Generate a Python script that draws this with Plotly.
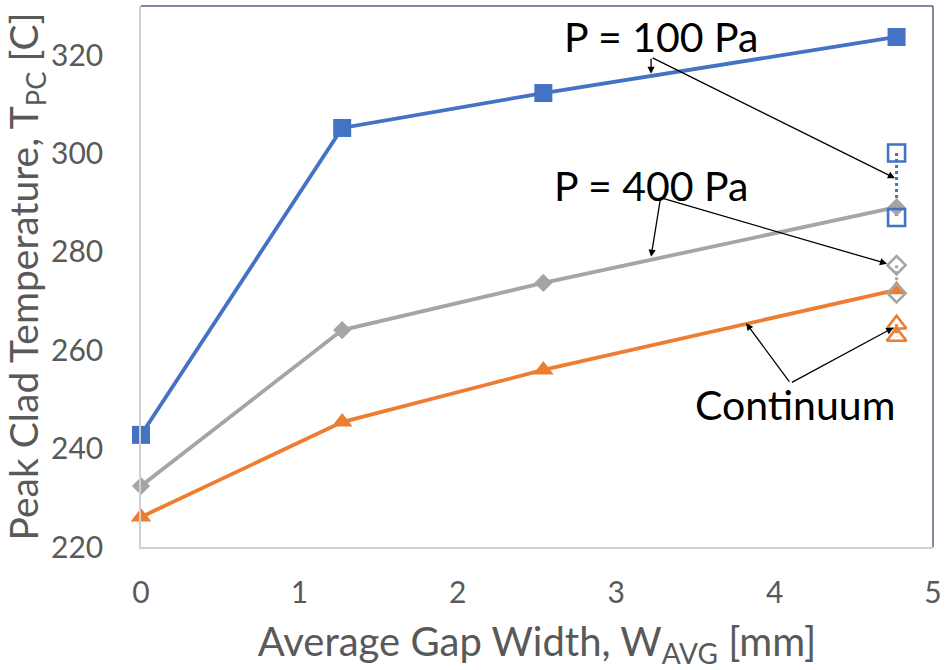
import plotly.graph_objects as go

# ---- data ----
gap_width = [0, 1.27, 2.54, 4.77]
t_100pa = [242.8, 305.2, 312.3, 323.7]
t_400pa = [232.4, 264.1, 273.7, 289.1]
t_continuum = [226.1, 245.4, 256.0, 272.3]

alt_x = [4.77, 4.77]
alt_100pa = [300.1, 287.0]
alt_400pa = [277.3, 271.6]
alt_continuum = [265.3, 262.8]

x_ticks = [0, 1, 2, 3, 4, 5]
y_ticks = [220, 240, 260, 280, 300, 320]

BLUE = "#4472C4"
GRAY = "#A5A5A5"
ORANGE = "#ED7D31"
TXT = "#595959"
FONT = "Lato"

fig = go.Figure()

# dotted connectors for the alternative points
for ys, col in [(alt_100pa, BLUE), (alt_400pa, GRAY), (alt_continuum, ORANGE)]:
    fig.add_trace(go.Scatter(x=alt_x, y=ys, mode="lines",
                             line=dict(color=col, width=3, dash="dot"),
                             showlegend=False, hoverinfo="skip", cliponaxis=False))

fig.add_trace(go.Scatter(x=gap_width, y=t_100pa, mode="lines+markers",
                         line=dict(color=BLUE, width=3.8),
                         marker=dict(symbol="square", size=18, color=BLUE),
                         name="P = 100 Pa", showlegend=False, cliponaxis=False))
fig.add_trace(go.Scatter(x=gap_width, y=t_400pa, mode="lines+markers",
                         line=dict(color=GRAY, width=3.8),
                         marker=dict(symbol="diamond", size=14, color=GRAY),
                         name="P = 400 Pa", showlegend=False, cliponaxis=False))
fig.add_trace(go.Scatter(x=gap_width, y=t_continuum, mode="lines+markers",
                         line=dict(color=ORANGE, width=3.8),
                         marker=dict(symbol="triangle-up", size=18, color=ORANGE),
                         name="Continuum", showlegend=False, cliponaxis=False))

fig.add_trace(go.Scatter(x=alt_x, y=alt_100pa, mode="markers",
                         marker=dict(symbol="square-open", size=17, color=BLUE,
                                     line=dict(width=2.6, color=BLUE)),
                         showlegend=False, cliponaxis=False))
fig.add_trace(go.Scatter(x=alt_x, y=alt_400pa, mode="markers",
                         marker=dict(symbol="diamond-open", size=14, color=GRAY,
                                     line=dict(width=2.6, color=GRAY)),
                         showlegend=False, cliponaxis=False))
fig.add_trace(go.Scatter(x=alt_x, y=alt_continuum, mode="markers",
                         marker=dict(symbol="triangle-up-open", size=17, color=ORANGE,
                                     line=dict(width=2.6, color=ORANGE)),
                         showlegend=False, cliponaxis=False))

# ---- labels and arrows (data units) ----
labels = [
    ("P = 100 Pa", 3.28, 323.9),
    ("P = 400 Pa", 3.22, 293.6),
    ("Continuum", 4.13, 248.9),
]
for txt, lx, ly in labels:
    fig.add_annotation(x=lx, y=ly, text=txt, showarrow=False,
                       font=dict(family=FONT, size=41, color="black"))

arrows = [
    # (tail_x, tail_y, head_x, head_y)
    (3.22, 319.6, 3.22, 316.2),
    (3.22, 319.6, 4.76, 295.0),
    (3.28, 291.0, 3.22, 279.0),
    (3.28, 291.0, 4.71, 277.6),
    (4.10, 253.3, 3.82, 265.5),
    (4.10, 253.3, 4.75, 264.6),
]
for tx, ty, hx, hy in arrows:
    fig.add_annotation(x=hx, y=hy, ax=tx, ay=ty, xref="x", yref="y",
                       axref="x", ayref="y", text="", showarrow=True,
                       arrowhead=2, arrowsize=1.1, arrowwidth=1.3,
                       arrowcolor="black", standoff=0, startstandoff=0)

# top / right frame lines
fig.add_shape(type="line", xref="paper", yref="paper", x0=0, x1=1, y0=1, y1=1,
              line=dict(color="#56627A", width=1.5))
fig.add_shape(type="line", xref="paper", yref="paper", x0=1, x1=1, y0=0, y1=1,
              line=dict(color="#56627A", width=1.5))

fig.update_layout(
    width=948, height=670,
    margin=dict(l=141, r=9, t=6, b=123),
    paper_bgcolor="white", plot_bgcolor="white",
    font=dict(family=FONT, color=TXT),
    showlegend=False,
)
fig.update_xaxes(
    range=[0, 5], tickvals=x_ticks, showgrid=False, zeroline=False,
    showline=True, linecolor="#D0D0D0", linewidth=1.5,
    ticks="", ticklabelstandoff=18,
    tickfont=dict(family=FONT, size=30, color=TXT),
    title=dict(text="Average Gap Width, W<sub>AVG</sub> [mm]",
               font=dict(family=FONT, size=40, color=TXT), standoff=20),
)
fig.update_yaxes(
    range=[220, 330], tickvals=y_ticks, showgrid=False, zeroline=False,
    showline=True, linecolor="#D0D0D0", linewidth=1.5,
    ticks="", ticklabelstandoff=30,
    tickfont=dict(family=FONT, size=30, color=TXT),
    title=dict(text="Peak Clad Temperature, T<sub>PC</sub> [C]",
               font=dict(family=FONT, size=39, color=TXT), standoff=6),
)

fig.write_html("out.html")
